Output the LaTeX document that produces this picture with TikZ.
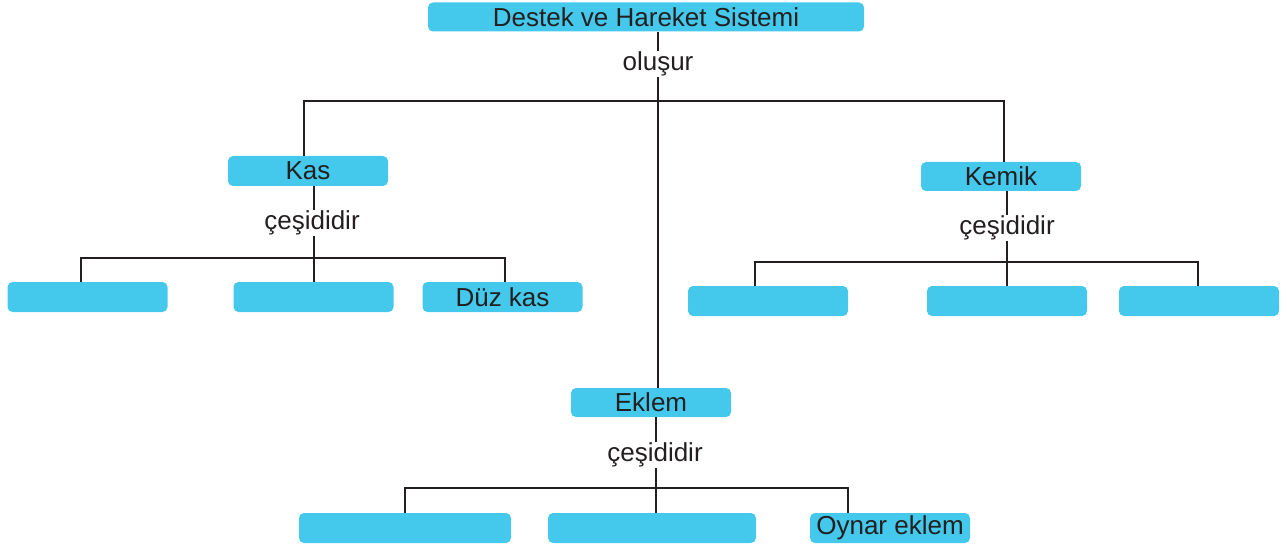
\documentclass[tikz,border=0pt]{standalone}
\usepackage{fontspec}
\setmainfont{Liberation Sans}
\usetikzlibrary{positioning}
\definecolor{mcyan}{HTML}{44C8EB}
\definecolor{mink}{HTML}{231F20}
\tikzstyle{box} = [rectangle, rounded corners=5pt, minimum width=160pt, minimum height=30pt, inner sep=0pt, text=mink, fill=mcyan, font=\fontsize{26pt}{28pt}\selectfont]
\tikzstyle{verb} = [inner sep=1pt, text=mink, font=\fontsize{26pt}{28pt}\selectfont]
\tikzstyle{link} = [line width=2.5pt, draw=mink]

\begin{document}
\begin{tikzpicture}[x=1pt, y=-1pt]
  \useasboundingbox (0,0) rectangle (1287,548);
  % ust kutu
  \node (sys) [box, minimum width=436pt, minimum height=29pt] at (646,17) {Destek ve Hareket Sistemi};
  \node (olusur) [verb] at (658,64) {oluşur};
  \node (kas) [box] at (308,171) {Kas};
  \node (kemik) [box, minimum height=29pt] at (1001,176.5) {Kemik};
  \node (eklem) [box, minimum height=29pt] at (651,402.5) {Eklem};
  \coordinate (bar) at (658,101);
  \draw [link] (sys.south -| olusur) -- (olusur);
  \draw [link] (olusur) -- (eklem.north -| olusur);
  \draw [link] ([xshift=-4pt]kas.north) |- (bar) -| ([xshift=3pt]kemik.north);
  % kas
  \node (cesitkas) [verb] at (312,223) {çeşididir};
  \node (kas1) [box] at (87.5,297) {};
  \node (kas2) [box] at (313.5,297) {};
  \node (duz) [box] at (502.5,297) {Düz kas};
  \draw [link] (kas.south -| 314,0) -- (cesitkas.north -| 314,0);
  \draw [link] (cesitkas.south -| 314,0) -- (kas2.north -| 314,0);
  \draw [link] ([xshift=-6.5pt]kas1.north) |- (314,258) -| ([xshift=2.5pt]duz.north);
  % kemik
  \node (cesitkemik) [verb] at (1007,228) {çeşididir};
  \node (kemik1) [box] at (768,301) {};
  \node (kemik2) [box] at (1007,301) {};
  \node (kemik3) [box] at (1199,301) {};
  \draw [link] (kemik.south -| cesitkemik) -- (cesitkemik);
  \draw [link] (cesitkemik) -- (kemik2);
  \draw [link] ([xshift=-13pt]kemik1.north) |- (1007,262) -| ([xshift=-1pt]kemik3.north);
  % eklem
  \node (cesiteklem) [verb] at (655,455) {çeşididir};
  \node (eklem1) [box, minimum width=212pt] at (405,528) {};
  \node (eklem2) [box, minimum width=208pt] at (652,528) {};
  \node (oynar) [box] at (890,528) {Oynar eklem};
  \draw [link] (eklem.south -| 656,0) -- (cesiteklem.north -| 656,0);
  \draw [link] (cesiteklem.south -| 656,0) -- (eklem2.north -| 656,0);
  \draw [link] (eklem1.north) |- (656,488) -| ([xshift=-42pt]oynar.north);
\end{tikzpicture}
\end{document}
